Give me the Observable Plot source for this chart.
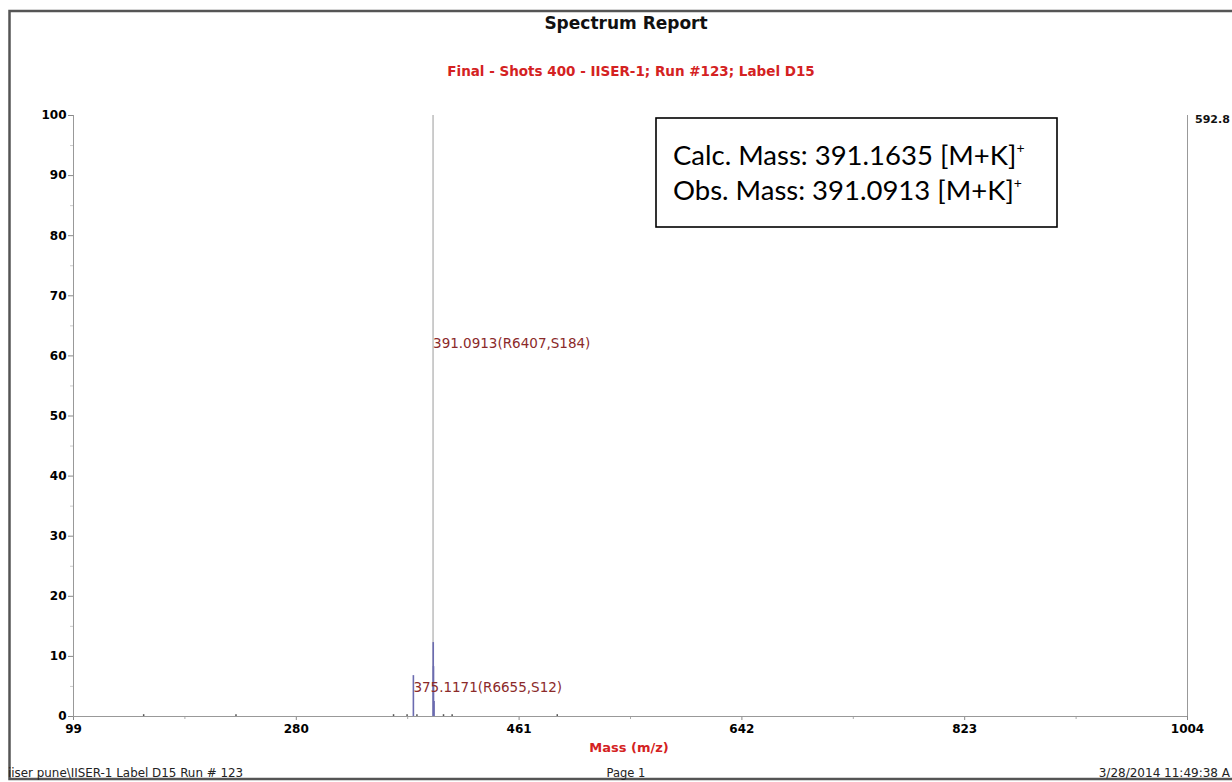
<!DOCTYPE html>
<html>
<head>
<meta charset="utf-8">
<script src="https://cdn.jsdelivr.net/npm/d3@7"></script>
<script src="https://cdn.jsdelivr.net/npm/@observablehq/plot@0.6"></script>
<style>
  html, body { margin: 0; padding: 0; background: #fff; }
  #page { position: relative; width: 1232px; height: 782px; overflow: hidden; background: #fff; }
  #page > svg { position: absolute; left: 0; top: 0; }
</style>
</head>
<body>
<div id="page"></div>
<script>
// ---- data ----
const titleText = "Spectrum Report";
const subtitleText = "Final - Shots 400 - IISER-1; Run #123; Label D15";
const xLabelText = "Mass (m/z)";
const maxIntensityText = "592.8";
const footerLeft = "iiser pune\\IISER-1 Label D15 Run # 123";
const footerCenter = "Page 1";
const footerRight = "3/28/2014 11:49:38 A";
const boxLines = ["Calc. Mass: 391.1635 [M+K]", "Obs. Mass: 391.0913 [M+K]"];

const xTicks = [99, 280, 461, 642, 823, 1004];
const xMinorTicks = [189.5, 370.5, 551.5, 732.5, 913.5];
const yTicks = [0, 10, 20, 30, 40, 50, 60, 70, 80, 90, 100];
const yMinorTicks = [5, 15, 25, 35, 45, 55, 65, 75, 85, 95];

// centroid (base peak) trace
const centroidMass = [391.0913];
const centroidIntensity = [100];
// profile trace
const profileMass = [375.1171, 391.25, 391.45, 391.9];
const profileIntensity = [6.8, 12.3, 8.3, 2.5];
// baseline noise
const noiseMass = [156, 231, 359, 370, 378, 399.6, 406.6, 492];
const noiseIntensity = [0.3, 0.3, 0.3, 0.3, 0.3, 0.3, 0.3, 0.3];

// peak annotations
const labelMass = [391.0913, 375.1171];
const labelText = ["391.0913(R6407,S184)", "375.1171(R6655,S12)"];
const labelLevel = [62.1, 4.8];

// ---- build tables ----
const centroid = centroidMass.map((m, i) => ({mass: m, intensity: centroidIntensity[i]}));
const profile = profileMass.map((m, i) => ({mass: m, intensity: profileIntensity[i]}));
const noise = noiseMass.map((m, i) => ({mass: m, intensity: noiseIntensity[i]}));
const labels = labelMass.map((m, i) => ({mass: m, text: labelText[i], level: labelLevel[i]}));

const W = 1232, H = 782;
const page = document.getElementById("page");

const chart = Plot.plot({
  width: W, height: H,
  marginLeft: 73, marginRight: 45, marginTop: 115, marginBottom: 66,
  style: {fontFamily: "'DejaVu Sans', sans-serif", color: "#000", background: "transparent"},
  x: {domain: [99, 1004]},
  y: {domain: [0, 100]},
  marks: [
    Plot.axisX({ticks: xTicks, tickSize: 4, tickPadding: 4, label: null, fontSize: 12, fontWeight: "bold",
      stroke: "#888", fill: "#000", tickFormat: d => String(d)}),
    Plot.axisX({ticks: xMinorTicks, tickSize: 3, label: null, stroke: "#aaa", tickFormat: () => ""}),
    Plot.axisY({ticks: yTicks, tickSize: 5, tickPadding: 2, label: null, fontSize: 12, fontWeight: "bold",
      stroke: "#888", fill: "#000", tickFormat: d => String(d)}),
    Plot.axisY({ticks: yMinorTicks, tickSize: 3, label: null, stroke: "#ccc", tickFormat: () => ""}),
    Plot.ruleY([0], {stroke: "#999", strokeWidth: 1}),
    Plot.ruleX([99, 1004], {stroke: "#999", strokeWidth: 1}),
    Plot.ruleX(noise, {x: "mass", y1: 0, y2: "intensity", stroke: "#555", strokeWidth: 1.5}),
    Plot.ruleX(centroid, {x: "mass", y1: 0, y2: "intensity", stroke: "#9a9a9a", strokeWidth: 1}),
    Plot.ruleX(profile, {x: "mass", y1: 0, y2: "intensity", stroke: "#6b6bb0", strokeWidth: 1.6}),
    Plot.text(labels, {x: "mass", y: "level", text: "text", textAnchor: "start", fill: "#8b2a2a",
      fontSize: 13.5, dx: 0})
  ]
});
page.appendChild(chart);

// ---- surrounding report text ----
const ov = d3.select(page).append("svg")
  .attr("width", W).attr("height", H)
  .style("font-family", "'DejaVu Sans', sans-serif")
  .style("pointer-events", "none");

// page frame
ov.append("rect").attr("x", 9.5).attr("y", 11).attr("width", 1240).attr("height", 768)
  .attr("fill", "none").attr("stroke", "#555").attr("stroke-width", 2.5);

ov.append("text").attr("x", 626).attr("y", 29).attr("text-anchor", "middle")
  .attr("font-size", 17).attr("font-weight", "bold").attr("fill", "#111").text(titleText);
ov.append("text").attr("x", 631).attr("y", 76).attr("text-anchor", "middle")
  .attr("font-size", 13.5).attr("font-weight", "bold").attr("fill", "#d42222").text(subtitleText);
ov.append("text").attr("x", 1195).attr("y", 123)
  .attr("font-size", 11).attr("font-weight", "bold").attr("fill", "#111").text(maxIntensityText);
ov.append("text").attr("x", 629).attr("y", 752).attr("text-anchor", "middle")
  .attr("font-size", 13).attr("font-weight", "bold").attr("fill", "#d42222").text(xLabelText);

ov.append("text").attr("x", 8).attr("y", 777).attr("font-size", 11.9).attr("fill", "#222").text(footerLeft);
ov.append("text").attr("x", 626).attr("y", 777).attr("text-anchor", "middle").attr("font-size", 11.5).attr("fill", "#222").text(footerCenter);
ov.append("text").attr("x", 1230).attr("y", 777).attr("text-anchor", "end").attr("font-size", 12).attr("fill", "#222").text(footerRight);

// annotation box
ov.append("rect").attr("x", 656).attr("y", 118).attr("width", 401).attr("height", 109)
  .attr("fill", "#fff").attr("stroke", "#000").attr("stroke-width", 1.6);
boxLines.forEach((line, i) => {
  const t = ov.append("text").attr("x", 673).attr("y", 165 + i * 35)
    .attr("font-family", "Lato, 'Open Sans', sans-serif").attr("font-size", 27.5).attr("fill", "#000");
  t.append("tspan").text(line);
  t.append("tspan").attr("dy", -12).attr("font-size", 14).text("+");
});
</script>
</body>
</html>
